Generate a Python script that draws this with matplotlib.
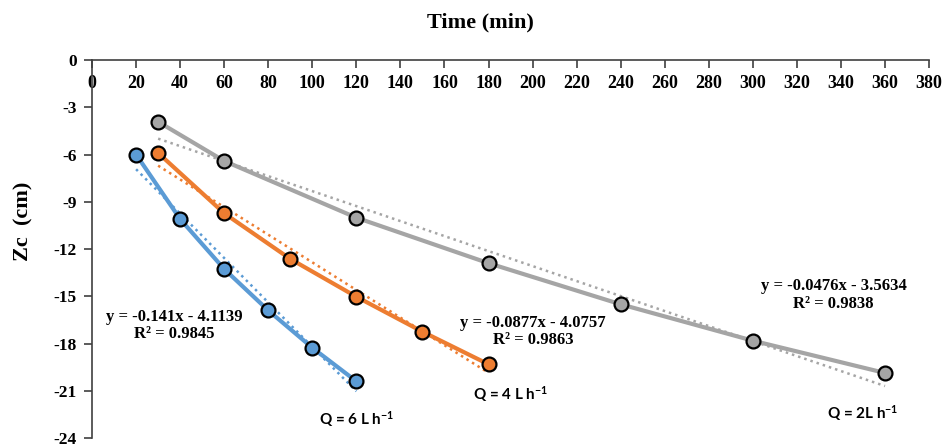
import matplotlib
matplotlib.use("Agg")
import matplotlib.pyplot as plt
import numpy as np

# ── Data ──────────────────────────────────────────────────────────────────────
time_q6 = [20, 40, 60, 80, 100, 120]
zc_q6 = [-6.0, -10.1, -13.27, -15.9, -18.27, -20.4]

time_q4 = [30, 60, 90, 120, 150, 180]
zc_q4 = [-5.9, -9.73, -12.63, -15.03, -17.25, -19.32]

time_q2 = [30, 60, 120, 180, 240, 300, 360]
zc_q2 = [-3.92, -6.41, -10.01, -12.9, -15.51, -17.82, -19.87]

# linear trend coefficients as printed on the chart
slopes = [-0.141, -0.0877, -0.0476]
intercepts = [-4.1139, -4.0757, -3.5634]
r2_values = [0.9845, 0.9863, 0.9838]
series_labels = ["Q = 6 L h$\\mathregular{^{-1}}$",
                 "Q = 4 L h$\\mathregular{^{-1}}$",
                 "Q = 2L h$\\mathregular{^{-1}}$"]

x_ticks = list(range(0, 381, 20))
y_ticks = list(range(0, -25, -3))

# ── Style ─────────────────────────────────────────────────────────────────────
COLORS = ["#5B9BD5", "#ED7D31", "#A5A5A5"]
SERIF = "Liberation Serif"
SANS = "Lato"
plt.rcParams["axes.unicode_minus"] = False

fig = plt.figure(figsize=(9.46, 4.46), dpi=100)
ax = fig.add_axes([0.0973, 0.0179, 0.8848, 0.8475])

series = [(time_q6, zc_q6), (time_q4, zc_q4), (time_q2, zc_q2)]
for (t, z), c, m, b in zip(series, COLORS, slopes, intercepts):
    t = np.array(t)
    ax.plot(t, z, color=c, linewidth=3, zorder=2)
    ax.plot(t[[0, -1]], m * t[[0, -1]] + b, color=c, linewidth=1.8,
            linestyle=(0, (1, 1.6)), zorder=1)
    ax.plot(t, z, linestyle="none", marker="o", markersize=10,
            markerfacecolor=c, markeredgecolor="black", markeredgewidth=1.6,
            zorder=3)

# trend equations
eq_pos = [(37.2, -16.3), (200.2, -16.68), (336.6, -14.35)]
for (x, y), m, b, r2 in zip(eq_pos, slopes, intercepts, r2_values):
    ax.text(x, y, f"y = {m}x - {abs(b)}", ha="center", va="center",
            fontsize=12, fontweight="bold", family=SERIF)
    ax.text(x, y - 1.12, f"R² = {r2}", ha="center", va="center",
            fontsize=12, fontweight="bold", family=SERIF)

# series labels
lab_pos = [(120, -22.8), (189.8, -21.2), (350, -22.4)]
for (x, y), lab in zip(lab_pos, series_labels):
    ax.text(x, y, lab, ha="center", va="center", fontsize=11,
            fontweight="bold", family=SANS)

# ── Axes ──────────────────────────────────────────────────────────────────────
ax.set_xlim(0, 380)
ax.set_ylim(-24, 0)
ax.spines["top"].set_visible(False)
ax.spines["right"].set_visible(False)
ax.spines["bottom"].set_position(("data", 0))
for s in ("left", "bottom"):
    ax.spines[s].set_color("#404040")
    ax.spines[s].set_linewidth(1.2)

ax.set_xticks(x_ticks)
ax.set_yticks(y_ticks)
ax.tick_params(axis="both", direction="out", length=6, width=1.2,
               color="#404040", pad=5)
ax.tick_params(axis="x", labelsize=13)
ax.tick_params(axis="y", labelsize=12.5)
for lab in ax.get_xticklabels() + ax.get_yticklabels():
    lab.set_family(SERIF)
    lab.set_fontweight("bold")

fig.text(480 / 946, 1 - 22 / 446, "Time (min)", ha="center", va="center",
         fontsize=16, fontweight="bold", family=SERIF)
fig.text(23 / 946, 1 - 221 / 446, "Zc  (cm)", ha="center", va="center",
         rotation=90, fontsize=16, fontweight="bold", family=SERIF)

fig.savefig("out.png", dpi=100)
